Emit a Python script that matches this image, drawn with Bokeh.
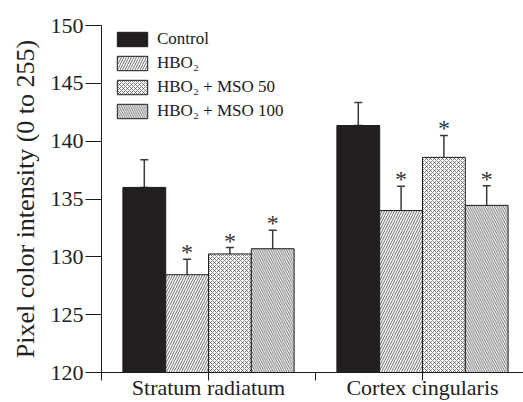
from bokeh.plotting import figure
from bokeh.models import (ColumnDataSource, Range1d, FixedTicker, Legend, LegendItem,
                          Whisker, TeeHead)
from bokeh.transform import dodge
from bokeh.core.properties import value
from bokeh.embed import file_html
from bokeh.resources import INLINE

# ---- data ----
categories = ["Stratum radiatum", "Cortex cingularis"]
series = ["Control", "HBO\u2082", "HBO\u2082 + MSO 50", "HBO\u2082 + MSO 100"]
control_mean = [136.0, 141.35]
hbo2_mean = [128.45, 134.0]
mso50_mean = [130.25, 138.6]
mso100_mean = [130.7, 134.45]
control_se = [2.4, 2.0]
hbo2_se = [1.35, 2.1]
mso50_se = [0.55, 1.9]
mso100_se = [1.6, 1.7]
significant = [False, True, True, True]
y_ticks = [120, 125, 130, 135, 140, 145, 150]

means = [control_mean, hbo2_mean, mso50_mean, mso100_mean]
ses = [control_se, hbo2_se, mso50_se, mso100_se]

# ---- styles ----
SERIF = "Liberation Serif"
offsets = [-0.3, -0.1, 0.1, 0.3]
bar_w = 0.2
fills = ["#231f20", "white", "white", "white"]
hatches = [None, "right_diagonal_line", "diagonal_cross", "left_diagonal_line"]
hatch_scales = [6, 5, 4, 4.5]
hatch_weights = [0.7, 0.7, 0.6, 0.7]

p = figure(width=523, height=402, output_backend="svg", toolbar_location=None,
           x_range=Range1d(0, 1.972), y_range=Range1d(120, 150),
           min_border_left=101, min_border_top=25, min_border_bottom=30,
           min_border_right=0)
p.outline_line_color = None
p.xgrid.visible = False
p.ygrid.visible = False
p.background_fill_color = "white"

xcenter = [i + 0.5 for i in range(len(categories))]

items = []
for k, name in enumerate(series):
    m = means[k]
    s = ses[k]
    upper = [mi + si for mi, si in zip(m, s)]
    lower = [mi - si for mi, si in zip(m, s)] if significant[k] else list(m)
    src = ColumnDataSource(dict(x=xcenter, top=m, upper=upper, lower=lower,
                                star=["*" if significant[k] else "" for _ in m]))
    xs = dodge("x", offsets[k], range=p.x_range)
    kw = dict(fill_color=fills[k], line_color="#1a1a1a", line_width=1)
    if hatches[k]:
        kw.update(hatch_pattern=hatches[k], hatch_color="#2a2a2a",
                  hatch_scale=hatch_scales[k], hatch_weight=hatch_weights[k])
    r = p.vbar(x=xs, top="top", bottom=120, width=bar_w, source=src, **kw)
    items.append(LegendItem(label=name, renderers=[r]))
    w = Whisker(base=xs, upper="upper", lower="lower", source=src,
                dimension="height", line_color="#3a3a3a", line_width=1.5,
                upper_head=TeeHead(size=8, line_color="#3a3a3a", line_width=1.5),
                lower_head=TeeHead(size=8, line_color="#3a3a3a", line_width=1.5))
    p.add_layout(w)
    if significant[k]:
        p.text(x=xs, y="upper", text="star", source=src, text_font=value(SERIF),
               text_font_size="24px", text_align="center",
               text_baseline="alphabetic", text_color="#333333", y_offset=-7)

legend = Legend(items=items, location=(12, 251), orientation="vertical",
                glyph_width=38, glyph_height=18, label_height=18, spacing=4,
                label_standoff=6, padding=0, margin=0,
                label_text_font=SERIF, label_text_font_size="17px",
                label_text_font_style="normal",
                label_text_color="#1a1a1a",
                border_line_color=None, background_fill_alpha=0)
p.add_layout(legend)

# y axis
yax = p.yaxis[0]
yax.ticker = FixedTicker(ticks=y_ticks)
yax.minor_tick_line_color = None
yax.major_tick_out = 16
yax.major_tick_in = 0
yax.major_label_standoff = 2
yax.major_label_text_font = SERIF
yax.major_label_text_font_size = "22px"
yax.major_label_text_color = "#222222"
yax.axis_label = "Pixel color intensity (0 to 255)"
yax.axis_label_text_font = SERIF
yax.axis_label_text_font_size = "26px"
yax.axis_label_text_font_style = "normal"
yax.axis_label_text_color = "#222222"
yax.axis_label_standoff = 8
yax.axis_line_color = "#1a1a1a"
yax.major_tick_line_color = "#1a1a1a"

# x axis
xax = p.xaxis[0]
xticks = [0, 0.5, 1, 1.5, 2]
xax.ticker = FixedTicker(ticks=xticks)
overrides = {0: "", 1: "", 2: ""}
for i, c in enumerate(categories):
    overrides[i + 0.5] = c
xax.major_label_overrides = overrides
xax.minor_tick_line_color = None
xax.major_tick_out = 8
xax.major_tick_in = 0
xax.major_label_standoff = -6
xax.major_label_text_font = SERIF
xax.major_label_text_font_size = "22px"
xax.major_label_text_color = "#222222"
xax.axis_line_color = "#1a1a1a"
xax.major_tick_line_color = "#1a1a1a"

open("out.html", "w").write(file_html(p, INLINE))
